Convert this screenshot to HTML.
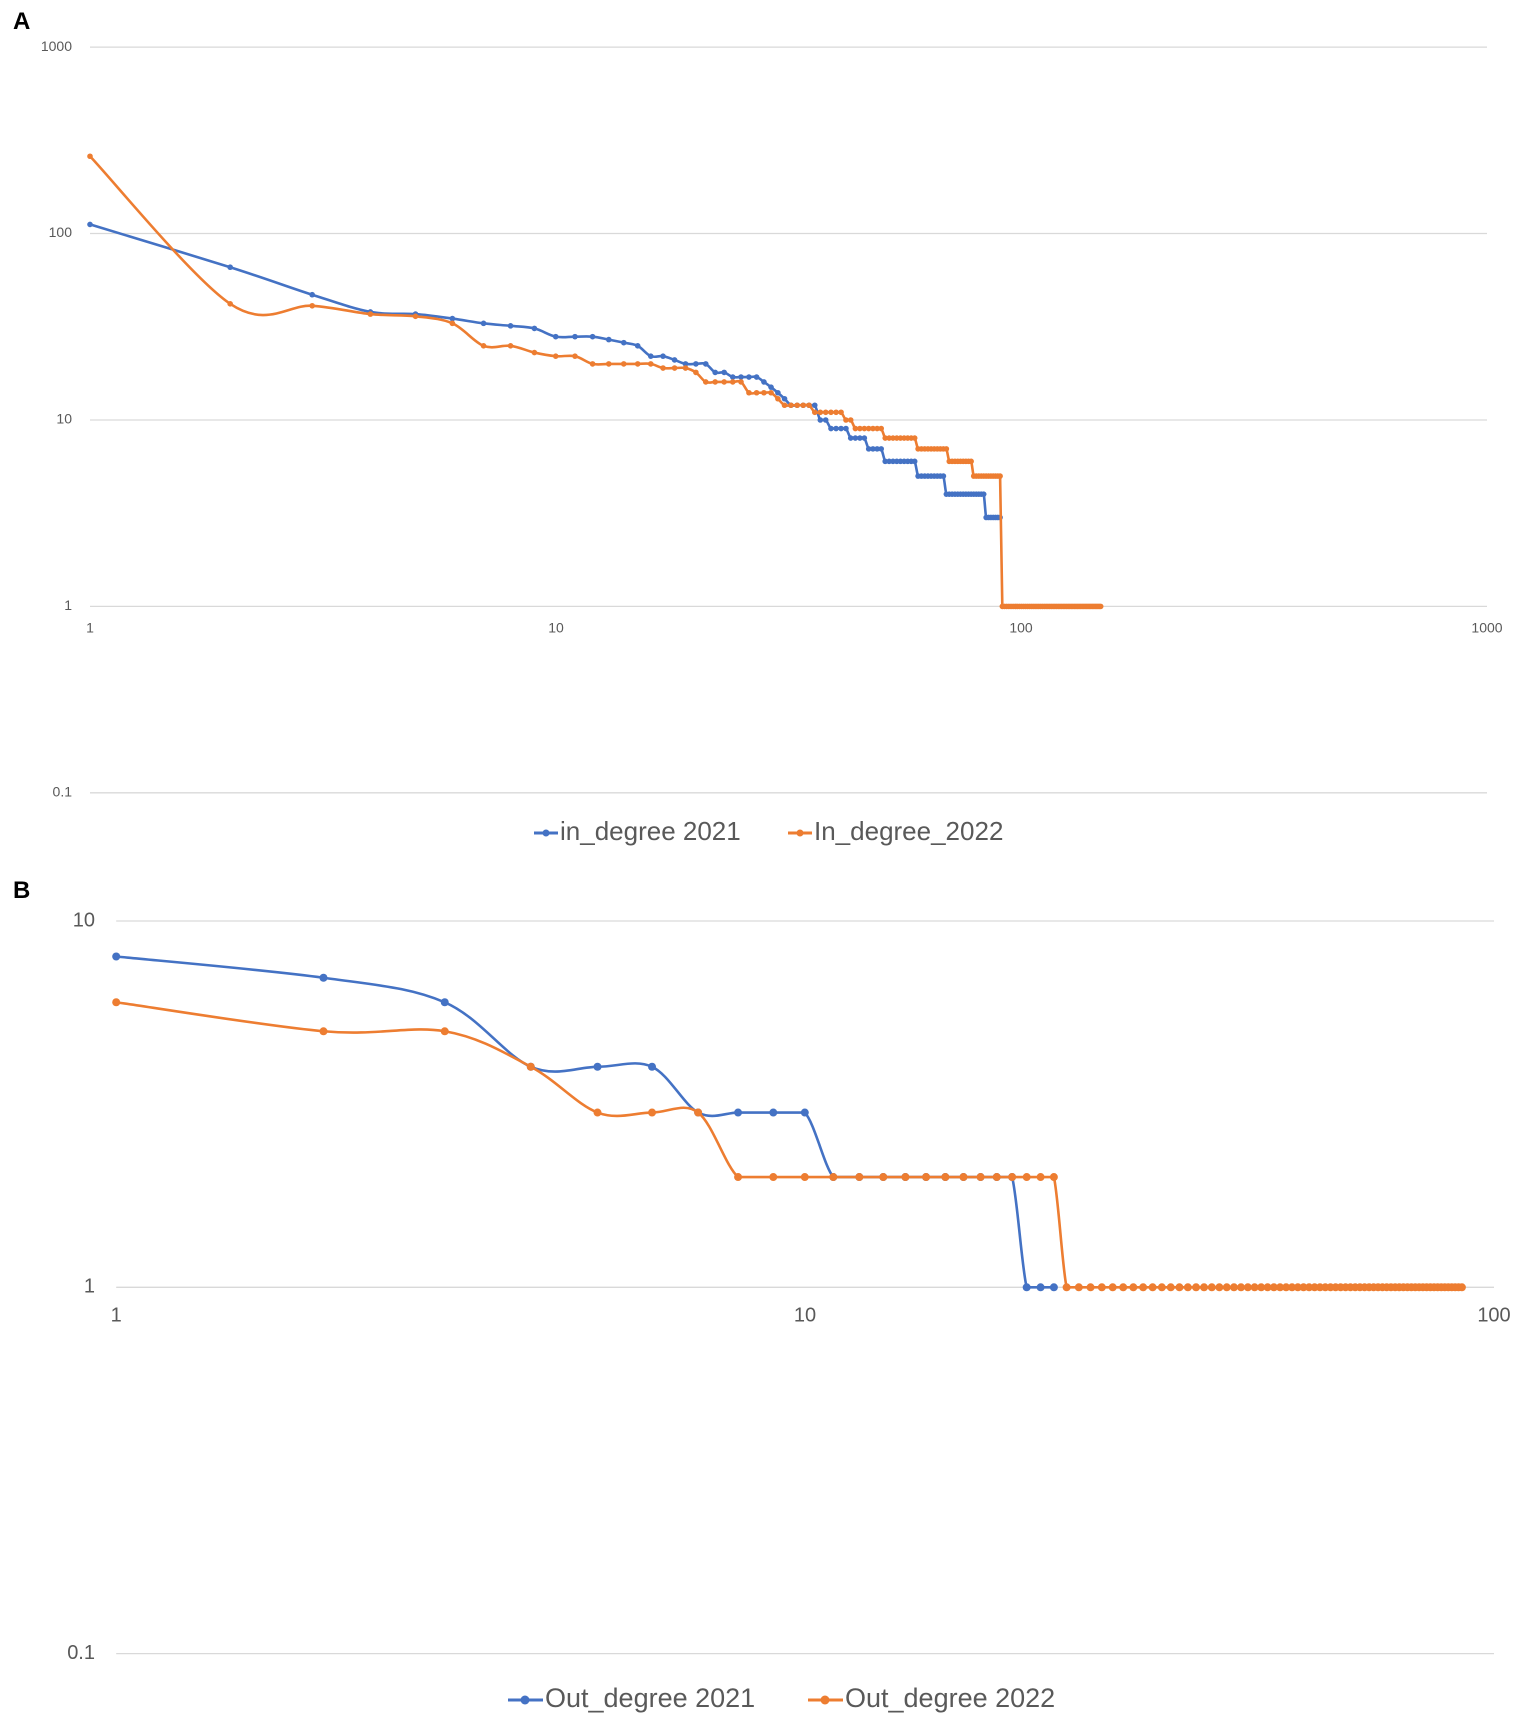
<!DOCTYPE html>
<html><head><meta charset="utf-8"><style>
html,body{margin:0;padding:0;background:#fff;}
svg{display:block;font-family:"Liberation Sans",sans-serif;}
.t{fill:#595959;}
</style></head><body>
<svg id="s" width="1535" height="1719" viewBox="0 0 1535 1719" xmlns="http://www.w3.org/2000/svg">
<text x="13" y="29" font-size="24" font-weight="bold" fill="#000">A</text>
<text x="13" y="898" font-size="24" font-weight="bold" fill="#000">B</text>
<g stroke="#d9d9d9" stroke-width="1.3">
<line x1="90" y1="47.1" x2="1487" y2="47.1"/><line x1="90" y1="233.5" x2="1487" y2="233.5"/>
<line x1="90" y1="420" x2="1487" y2="420"/><line x1="90" y1="606.4" x2="1487" y2="606.4"/>
<line x1="90" y1="792.8" x2="1487" y2="792.8"/>
<line x1="116.2" y1="921" x2="1494" y2="921"/><line x1="116.2" y1="1287.3" x2="1494" y2="1287.3"/>
<line x1="116.2" y1="1653.6" x2="1494" y2="1653.6"/>
</g>
<g class="t" font-size="14" text-anchor="end" dominant-baseline="middle">
<text x="72" y="47.1">1000</text><text x="72" y="233.5">100</text><text x="72" y="420">10</text><text x="72" y="606.4">1</text><text x="72" y="792.8">0.1</text>
</g>
<g class="t" font-size="14" text-anchor="middle" dominant-baseline="middle">
<text x="90" y="629">1</text><text x="556" y="629">10</text><text x="1021" y="629">100</text><text x="1487" y="629">1000</text>
</g>
<g class="t" font-size="20" text-anchor="end" dominant-baseline="middle">
<text x="95" y="921">10</text><text x="95" y="1287.3">1</text><text x="95" y="1653.6">0.1</text>
</g>
<g class="t" font-size="20" text-anchor="middle" dominant-baseline="middle">
<text x="116.2" y="1316">1</text><text x="805" y="1316">10</text><text x="1494" y="1316">100</text>
</g>
<g font-size="26" class="t" dominant-baseline="middle">
<line x1="534" y1="833" x2="558" y2="833" stroke="#4472C4" stroke-width="3"/><circle cx="546" cy="833" r="3.5" fill="#4472C4"/>
<text x="560" y="833">in_degree 2021</text>
<line x1="788" y1="833" x2="812" y2="833" stroke="#ED7D31" stroke-width="3"/><circle cx="800" cy="833" r="3.5" fill="#ED7D31"/>
<text x="814" y="833">In_degree_2022</text>
</g>
<g font-size="27" class="t" dominant-baseline="middle">
<line x1="508" y1="1700" x2="543" y2="1700" stroke="#4472C4" stroke-width="3"/><circle cx="525" cy="1700" r="4.5" fill="#4472C4"/>
<text x="545" y="1700">Out_degree 2021</text>
<line x1="808" y1="1700" x2="843" y2="1700" stroke="#ED7D31" stroke-width="3"/><circle cx="825" cy="1700" r="4.5" fill="#ED7D31"/>
<text x="845" y="1700">Out_degree 2022</text>
</g>
<g id="plot"></g>
</svg>
<script>
function seq(pairs){var a=[];pairs.forEach(function(p){for(var x=p[0];x<=p[1];x++)a.push([x,p[2]]);});return a;}
var A21=[[1,112],[2,66],[3,47],[4,38],[5,37],[6,35],[7,33],[8,32],[9,31],[10,28],[11,28],[12,28],[13,27],[14,26],[15,25],[16,22],[17,22],[18,21],[19,20],[20,20],[21,20],[22,18],[23,18],[24,17],[25,17],[26,17],[27,17],[28,16],[29,15],[30,14],[31,13]].concat(seq([[32,36,12],[37,38,10],[39,42,9],[43,46,8],[47,50,7],[51,59,6],[60,68,5],[69,83,4],[84,90,3]]));
var A22=[[1,260],[2,42],[3,41],[4,37],[5,36],[6,33],[7,25],[8,25],[9,23],[10,22],[11,22]].concat(seq([[12,16,20],[17,19,19],[20,20,18],[21,25,16],[26,29,14],[30,30,13],[31,35,12],[36,41,11],[42,43,10],[44,50,9],[51,59,8],[60,69,7],[70,78,6],[79,90,5],[91,148,1]]));
var B21=[[1,8],[2,7],[3,6],[4,4],[5,4],[6,4],[7,3],[8,3],[9,3],[10,3]].concat(seq([[11,20,2],[21,23,1]]));
var B22=[[1,6],[2,5],[3,5],[4,4],[5,3],[6,3],[7,3]].concat(seq([[8,23,2],[24,90,1]]));
var NS="http://www.w3.org/2000/svg",g=document.getElementById('plot');
function clamp(v,a,b){var lo=Math.min(a,b),hi=Math.max(a,b);return Math.max(lo,Math.min(hi,v));}
function draw(d,col,x0,xd,y0,yd,r){
 var P=d.map(function(p){return [x0+Math.log10(p[0])*xd,y0-Math.log10(p[1])*yd];});
 var s="M"+P[0][0]+","+P[0][1];
 for(var i=0;i<P.length-1;i++){var p0=P[i-1]||P[i],p1=P[i],p2=P[i+1],p3=P[i+2]||p2,t=1/6;
  var c1x=p1[0]+(p2[0]-p0[0])*t,c1y=p1[1]+(p2[1]-p0[1])*t,c2x=p2[0]-(p3[0]-p1[0])*t,c2y=p2[1]-(p3[1]-p1[1])*t;
  var big=Math.abs(p2[1]-p1[1])>Math.abs(p2[0]-p1[0])*1.5||Math.abs(p3[1]-p2[1])>Math.abs(p3[0]-p2[0])*1.5||Math.abs(p1[1]-p0[1])>Math.abs(p1[0]-p0[0])*1.5;
  if(big&&(p2[0]-p1[0])<40){c1y=clamp(c1y,p1[1],p2[1]);c2y=clamp(c2y,p1[1],p2[1]);}
  s+="C"+c1x+","+c1y+" "+c2x+","+c2y+" "+p2[0]+","+p2[1];}
 var e=document.createElementNS(NS,'path');e.setAttribute('d',s);e.setAttribute('fill','none');e.setAttribute('stroke',col);e.setAttribute('stroke-width','2.6');g.appendChild(e);
 P.forEach(function(p){var c=document.createElementNS(NS,'circle');c.setAttribute('cx',p[0]);c.setAttribute('cy',p[1]);c.setAttribute('r',r);c.setAttribute('fill',col);g.appendChild(c);});
}
draw(A21,'#4472C4',90,465.7,606.4,186.4,2.8);
draw(A22,'#ED7D31',90,465.7,606.4,186.4,2.8);
draw(B21,'#4472C4',116.2,688.6,1287.3,366.3,4);
draw(B22,'#ED7D31',116.2,688.6,1287.3,366.3,4);
</script>
</body></html>
